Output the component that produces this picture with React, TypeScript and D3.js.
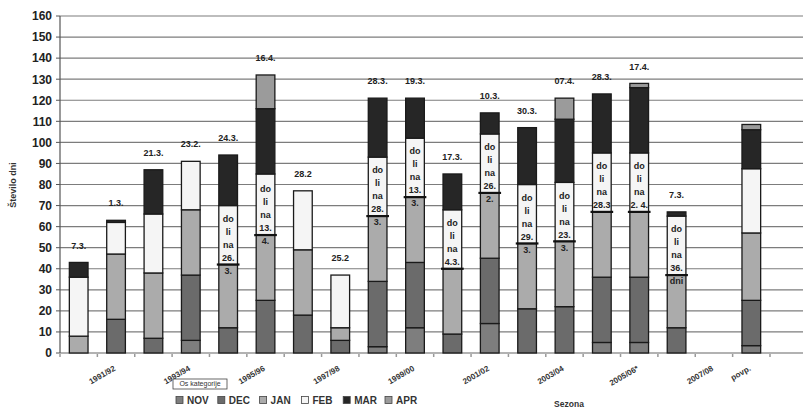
import React from 'react';
import * as d3 from 'd3';

const categories = ['1991/92','1992/93','1993/94','1994/95','1995/96','1996/97','1997/98','1998/99','1999/00','2000/01','2001/02','2002/03','2003/04','2004/05','2005/06*','2006/07','2007/08','blank','povp.'];
const tickLabels = ['1991/92','1993/94','1995/96','1997/98','1999/00','2001/02','2003/04','2005/06*','2007/08','povp.'];
const months = ['NOV','DEC','JAN','FEB','MAR','APR'];
const nov = [0,0,0,6,0,0,0,0,3,12,0,14,0,0,5,5,0,0,3.5];
const dec = [0,16,7,31,12,25,18,6,31,31,9,31,21,22,31,31,12,0,21.5];
const jan = [8,31,31,31,30,31,31,6,31,31,31,31,31,31,31,31,25,0,32];
const feb = [28,15,28,23,28,29,28,25,28,28,28,28,28,28,28,28,28,0,30.5];
const mar = [7,1,21,0,24,31,0,0,28,19,17,10,27,30,28,31,2,0,18.5];
const apr = [0,0,0,0,0,16,0,0,0,0,0,0,0,10,0,2,0,0,2.5];
const dateLabels = ['7.3.','1.3.','21.3.','23.2.','24.3.','16.4.','28.2','25.2','28.3.','19.3.','17.3.','10.3.','30.3.','07.4.','28.3.','17.4.','7.3.','',''];
const innerNotes: (string[] | null)[] = [null,null,null,null,['do','li','na','26.','3.'],['do','li','na','13.','4.'],null,null,['do','li','na','28.','3.'],['do','li','na','13.','3.'],['do','li','na','4.3.'],['do','li','na','26.','2.'],['do','li','na','29.','3.'],['do','li','na','23.','3.'],['do','li','na','28.3'],['do','li','na','2. 4.'],['do','li','na','36.','dni'],null,null];
const yTicks = d3.range(0, 161, 10);

const colors: Record<string, string> = { NOV: '#7e7e7e', DEC: '#6b6b6b', JAN: '#ababab', FEB: '#f5f5f5', MAR: '#262626', APR: '#9b9b9b' };
const W = 803, H = 410;
const FONT = '"Liberation Sans", Arial, sans-serif';

export default function App() {
  const seriesMap: Record<string, number[]> = { NOV: nov, DEC: dec, JAN: jan, FEB: feb, MAR: mar, APR: apr };
  const rows = categories.map((c, i) => {
    const r: any = { cat: c };
    months.forEach(m => { r[m] = seriesMap[m][i]; });
    return r;
  });
  const stack = d3.stack<any>().keys(months)(rows);
  const x = d3.scaleBand<string>().domain(categories).range([60, 770]).paddingInner(0.5).paddingOuter(0.25);
  const y = d3.scaleLinear().domain([0, 160]).range([353, 16]);
  const step = x.step();
  const bw = x.bandwidth();
  const cx = (c: string) => (x(c) as number) + bw / 2;
  const totals = categories.map((_, i) => months.reduce((s, m) => s + seriesMap[m][i], 0));

  return (
    <svg width={W} height={H} style={{ position: 'absolute', left: 0, top: 0, background: '#fff' }} fontFamily={FONT}>
      {yTicks.map(t => (
        <g key={t}>
          {t > 0 && <line x1={60} x2={W} y1={y(t)} y2={y(t)} stroke="#7c7c7c" strokeWidth={1.2} />}
          <line x1={56} x2={60} y1={y(t)} y2={y(t)} stroke="#555" strokeWidth={1} />
          <text x={52} y={y(t)} dy="0.36em" textAnchor="end" fontSize={12} fontWeight="bold" fill="#222">{t}</text>
        </g>
      ))}
      <line x1={60} x2={60} y1={y(160)} y2={y(0)} stroke="#555" strokeWidth={1.2} />
      <line x1={60} x2={W} y1={y(0)} y2={y(0)} stroke="#666" strokeWidth={1.2} />
      {d3.range(0, 21).map(k => (
        <line key={k} x1={60 + k * step} x2={60 + k * step} y1={y(0) + 1} y2={y(0) + 4} stroke="#999" strokeWidth={1.5} />
      ))}
      {stack.map(s => (
        <g key={s.key}>
          {s.map((d, i) => d[1] - d[0] > 0 ? (
            <rect key={i} x={x(categories[i])} width={bw} y={y(d[1])} height={y(d[0]) - y(d[1])}
              fill={colors[s.key]} stroke="#1a1a1a" strokeWidth={1.3} />
          ) : null)}
        </g>
      ))}
      {categories.map((c, i) => {
        const notes = innerNotes[i];
        if (!notes) return null;
        const boundary = y(nov[i] + dec[i] + jan[i]);
        const first = boundary - 46;
        return (
          <g key={c}>
            <line x1={(x(c) as number) - 2} x2={(x(c) as number) + bw + 2} y1={boundary} y2={boundary} stroke="#111" strokeWidth={2.2} />
            {notes.map((n, k) => (
              <text key={k} x={cx(c)} y={first + k * 13} dy="0.35em" textAnchor="middle" fontSize={9} fontWeight="bold" fill="#222">{n}</text>
            ))}
          </g>
        );
      })}
      {categories.map((c, i) => dateLabels[i] ? (
        <text key={c} x={cx(c)} y={y(totals[i]) - 17} dy="0.35em" textAnchor="middle" fontSize={9} fontWeight="bold" fill="#222">{dateLabels[i]}</text>
      ) : null)}
      {tickLabels.map((t, k) => {
        const idx = Math.min(2 * k + 1, categories.length - 1);
        const ax = cx(categories[idx]);
        return (
          <text key={t} transform={`translate(${ax},370) rotate(-30)`} textAnchor="end" fontSize={8} fontWeight="bold" fill="#333">{t}</text>
        );
      })}
      <text transform="translate(16,185) rotate(-90)" textAnchor="middle" fontSize={9} fontWeight="bold" fill="#333">Število dni</text>
      <rect x={173} y={379} width={54} height={10} fill="#fff" stroke="#444" strokeWidth={0.8} />
      <text x={200} y={384} dy="0.35em" textAnchor="middle" fontSize={7} fill="#333">Os kategorije</text>
      {months.map((m, k) => {
        const lx = 176 + k * 41.8;
        return (
          <g key={m}>
            <rect x={lx} y={396.5} width={7} height={7} fill={colors[m]} stroke="#444" strokeWidth={0.8} />
            <text x={lx + 11} y={400} dy="0.36em" fontSize={10} fontWeight="bold" fill="#333">{m}</text>
          </g>
        );
      })}
      <text x={569} y={407} textAnchor="middle" fontSize={8.5} fontWeight="bold" fill="#333">Sezona</text>
    </svg>
  );
}
